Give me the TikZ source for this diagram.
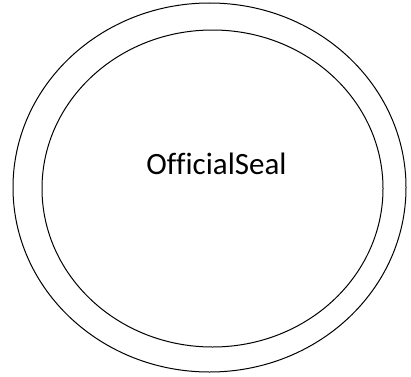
\documentclass[tikz,border=0pt]{standalone}
\usepackage{fontspec}
\setmainfont{Carlito}[Ligatures=CommonOff]
\usetikzlibrary{shapes.geometric}

\begin{document}
\begin{tikzpicture}[x=1pt,y=1pt,ring/.style={draw,ellipse,line width=1pt,inner sep=0pt}]
\useasboundingbox (0,0) rectangle (411,376);
\node[ring,minimum width=393pt,minimum height=369pt] (outer) at (209.5,188.5) {};
\node[ring,minimum width=341pt,minimum height=317pt] (inner) at (212.5,187.5) {};
\node[font=\fontsize{31}{36}\selectfont] (label) at (216.5,212) {OfficialSeal};
\end{tikzpicture}
\end{document}
